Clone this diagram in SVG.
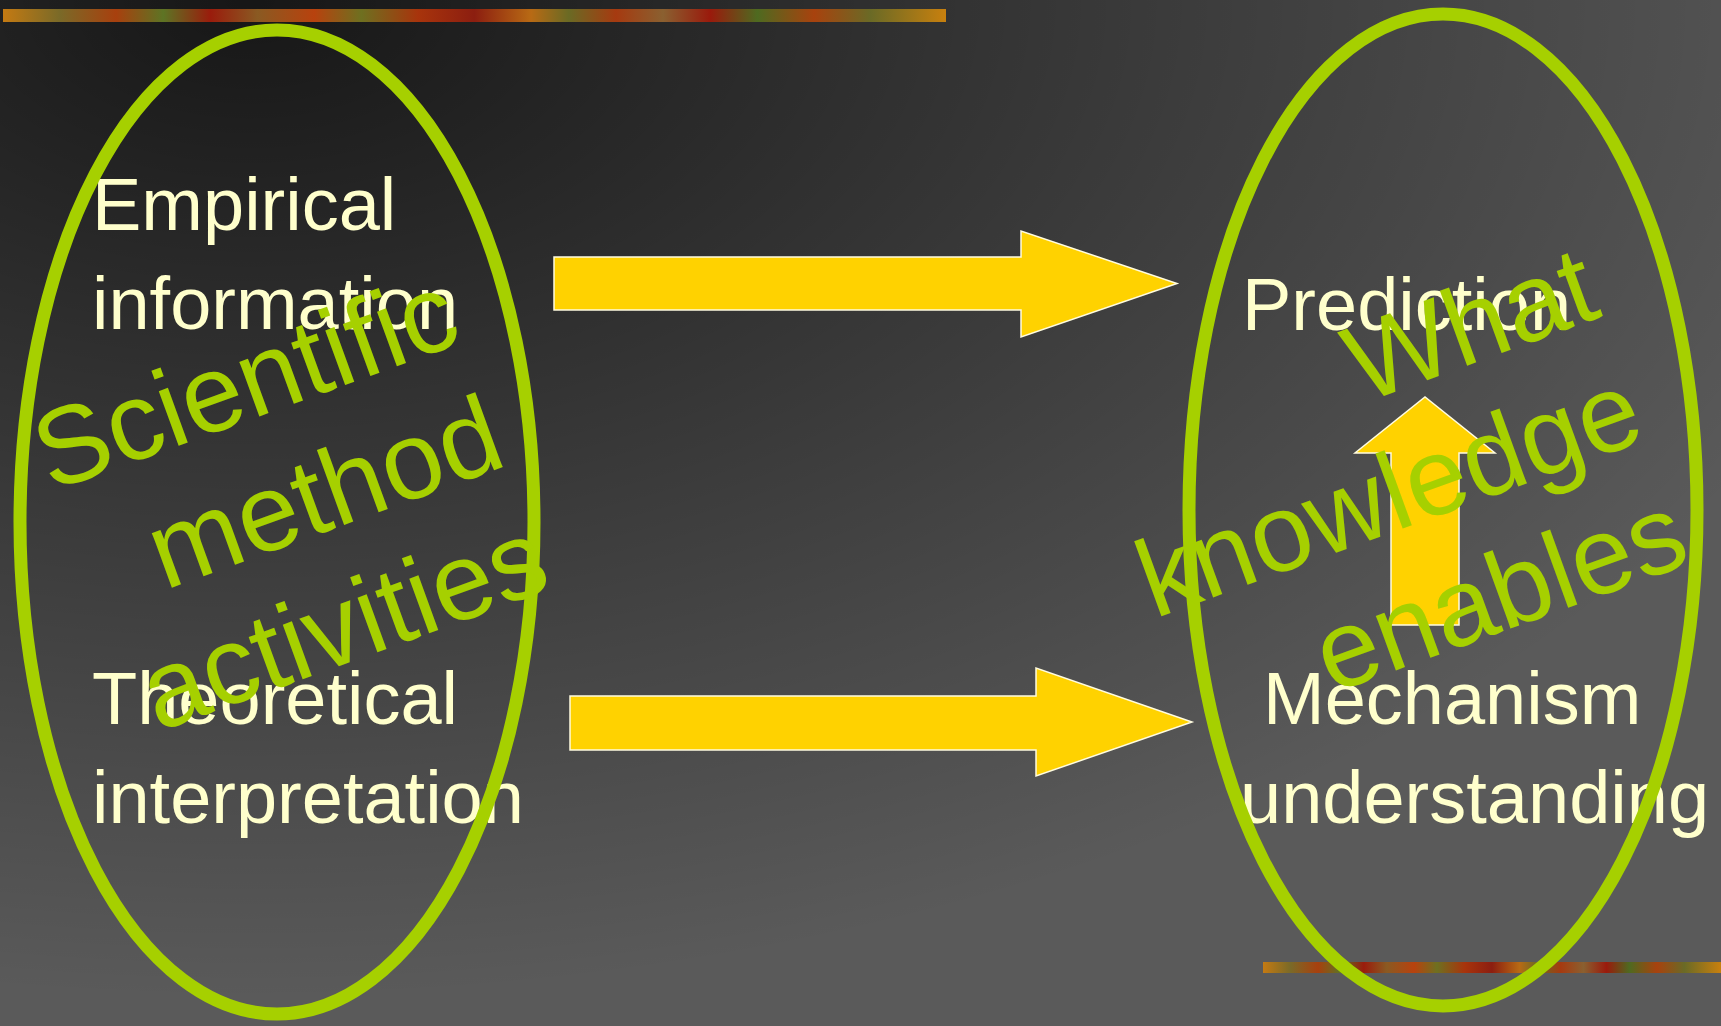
<svg xmlns="http://www.w3.org/2000/svg" width="1721" height="1026" viewBox="0 0 1721 1026">
<defs>
<radialGradient id="shade" gradientUnits="userSpaceOnUse" cx="0" cy="0" r="1" gradientTransform="translate(250 0) scale(1700 1000)">
<stop offset="0" stop-color="#000" stop-opacity="0.75"/>
<stop offset="1" stop-color="#000" stop-opacity="0"/>
</radialGradient>
<linearGradient id="strip" x1="0" y1="0" x2="1" y2="0">
<stop offset="0" stop-color="#c47a12"/>
<stop offset="0.06" stop-color="#7a6a28"/>
<stop offset="0.12" stop-color="#a8400e"/>
<stop offset="0.17" stop-color="#5d7424"/>
<stop offset="0.22" stop-color="#9a1c0c"/>
<stop offset="0.27" stop-color="#8a5a22"/>
<stop offset="0.33" stop-color="#b8420e"/>
<stop offset="0.38" stop-color="#6e7020"/>
<stop offset="0.44" stop-color="#a8340c"/>
<stop offset="0.5" stop-color="#8c1e10"/>
<stop offset="0.56" stop-color="#b86a14"/>
<stop offset="0.6" stop-color="#6a6a24"/>
<stop offset="0.65" stop-color="#a63a10"/>
<stop offset="0.7" stop-color="#8a6030"/>
<stop offset="0.75" stop-color="#9a1a0c"/>
<stop offset="0.8" stop-color="#4e6a20"/>
<stop offset="0.86" stop-color="#a8420e"/>
<stop offset="0.92" stop-color="#6a6a26"/>
<stop offset="1" stop-color="#c8800e"/>
</linearGradient>
<style>
.ring{fill:none;stroke:#a6d000;stroke-width:13}
.arrow{fill:#ffd200;stroke:#fffce0;stroke-width:1.5}
.lbl{font-family:"Liberation Sans",Arial,sans-serif;font-size:74px;fill:#ffffcc}
.wm{font-family:"Liberation Sans",Arial,sans-serif;font-size:110px;fill:#a6d000;text-anchor:end}
</style>
</defs>
<rect width="1721" height="1026" fill="#5a5a5a"/>
<rect width="1721" height="1026" fill="url(#shade)"/>
<rect x="3" y="9" width="943" height="13" fill="url(#strip)"/>
<rect x="1263" y="962" width="458" height="11" fill="url(#strip)"/>
<g id="connectors">
<polygon class="arrow" points="554,257 1021,257 1021,231 1177,283.5 1021,337 1021,310 554,310"/>
<polygon class="arrow" points="570,696 1036,696 1036,668 1192,722 1036,776 1036,750 570,750"/>
<polygon class="arrow" points="1391,625 1391,453 1355,453 1425,397 1495,453 1459,453 1459,625"/>
</g>
<g id="empirical">
<text class="lbl" x="92" y="230">Empirical</text>
<text class="lbl" x="92" y="329">information</text>
</g>
<g id="theoretical">
<text class="lbl" x="92" y="724">Theoretical</text>
<text class="lbl" x="92" y="823">interpretation</text>
</g>
<g id="prediction">
<text class="lbl" x="1242" y="330">Prediction</text>
</g>
<g id="mechanism">
<text class="lbl" x="1263" y="724">Mechanism</text>
<text class="lbl" x="1240" y="823">understanding</text>
</g>
<g id="scientific-method">
<ellipse class="ring" cx="277" cy="522" rx="257" ry="492"/>
<g transform="translate(330 530) rotate(-20)">
<text class="wm" x="191" y="-131">Scientific</text>
<text class="wm" x="191" y="0">method</text>
<text class="wm" x="191" y="131">activities</text>
</g>
</g>
<g id="what-knowledge">
<ellipse class="ring" cx="1443" cy="510" rx="254" ry="496"/>
<g transform="translate(1393 532) rotate(-20)">
<text class="wm" x="272" y="-131">What</text>
<text class="wm" x="272" y="0">knowledge</text>
<text class="wm" x="272" y="131">enables</text>
</g>
</g>
</svg>
